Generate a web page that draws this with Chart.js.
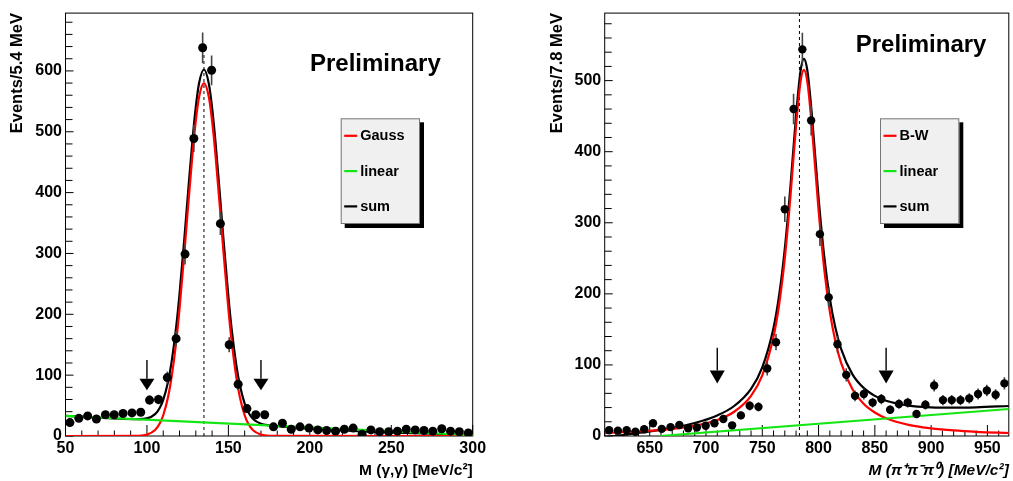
<!DOCTYPE html>
<html>
<head>
<meta charset="utf-8">
<script src="https://cdn.jsdelivr.net/npm/chart.js@4/dist/chart.umd.min.js"></script>
<style>
  body { margin: 0; background: #fff; }
  #wrap { display: flex; width: 1013px; height: 481px; }
  canvas { display: block; }
</style>
</head>
<body>
<div id="wrap">
  <canvas id="pi0" width="506" height="481"></canvas>
  <canvas id="omega" width="507" height="481"></canvas>
</div>
<script>
// ---- pi0 -> gamma gamma (left) ----
const pi0Mass = [52.7, 58.2, 63.6, 69.0, 74.5, 79.9, 85.3, 90.8, 96.2, 101.6, 107.1, 112.5, 117.9, 123.4, 128.8, 134.2,
  139.7, 145.1, 150.5, 156.0, 161.4, 166.8, 172.3, 177.7, 183.2, 188.6, 194.0, 199.5, 204.9, 210.3, 215.8, 221.2,
  226.6, 232.1, 237.5, 242.9, 248.4, 253.8, 259.2, 264.7, 270.1, 275.5, 281.0, 286.4, 291.8, 297.3];
const pi0Events = [22, 29, 33, 28, 35, 35, 37, 38, 39, 59, 60, 96, 160, 299, 489, 638,
  601, 349, 150, 85, 45, 35, 35, 15, 21, 11, 15, 13, 10, 9, 8, 11,
  13, 3, 10, 7, 7, 8, 11, 10, 9, 8, 12, 8, 7, 5];
const pi0FitX = [50, 95, 100, 105, 108, 110, 113, 115, 118, 120, 123, 125, 128, 130, 132, 135,
  138, 140, 142, 145, 147, 150, 152, 155, 157, 160, 162, 165, 170, 175, 300];
const pi0Gauss = [0, 0.4, 2.2, 9.8, 21.3, 34.1, 64.6, 94.5, 156, 209, 302, 368.5, 464.5, 518, 557, 580,
  557, 518, 464.5, 368.5, 302, 209, 156, 94.5, 64.6, 34.1, 21.3, 9.8, 2.2, 0.4, 0];
const pi0Sum = [33, 27.7, 28.9, 35.9, 47, 59.5, 89.7, 119.3, 180.4, 233.2, 325.8, 392, 487.7, 541, 579.7, 602.3,
  579, 539.7, 486, 389.5, 322.8, 229.4, 176, 114.3, 84.2, 53.2, 40.2, 28.3, 20.1, 17.7, 1.5];
const pi0LinearX = [50, 300];
const pi0Linear = [33, 1.5];
const pi0XTicks = [50, 100, 150, 200, 250, 300];
const pi0YTicks = [0, 100, 200, 300, 400, 500, 600];
const pi0Cuts = [100, 170];
const pi0Peak = 135;

// ---- omega -> pi+ pi- pi0 (right) ----
const omegaMass = [613.9, 621.7, 629.5, 637.3, 645.1, 652.9, 660.7, 668.5, 676.3, 684.1, 691.9, 699.7, 707.5, 715.4,
  723.2, 731.0, 738.8, 746.6, 754.4, 762.2, 770.0, 777.8, 785.6, 793.4, 801.2, 809.0, 816.8, 824.6, 832.4, 840.2,
  848.0, 855.8, 863.6, 871.4, 879.2, 887.0, 894.9, 902.7, 910.5, 918.3, 926.1, 933.9, 941.7, 949.5, 957.3, 965.1];
const omegaEvents = [8, 7.5, 8, 6, 9.5, 18, 10, 12.5, 15.5, 11, 12, 14.5, 18, 24,
  15, 29, 42.5, 41, 95, 132, 319, 460, 544, 444, 284, 195, 129, 86, 56.5, 59,
  47, 52, 37, 45, 47, 31, 44, 71, 50.5, 50.5, 50.5, 53, 59, 64, 58, 74];
const omegaFitX = [610, 630, 650, 670, 690, 710, 725, 740, 750, 760, 765, 770, 775, 780, 784, 787,
  790, 794, 800, 805, 810, 815, 820, 830, 840, 850, 860, 880, 900, 920, 940, 969];
const omegaBW = [4.4, 5.6, 7.4, 10, 14.5, 22.6, 34.1, 56.5, 85.4, 140, 185.4, 249.9, 336.8, 436.4, 498.5, 515,
  498.5, 436.4, 317.7, 235.2, 175, 132.7, 103, 66.1, 45.5, 33.1, 25, 15.7, 10.8, 7.8, 5.9, 4.2];
const omegaSum = [-1.6, 2.1, 6.3, 11.4, 18.3, 28.9, 42.2, 66.4, 96.6, 152.4, 198.4, 263.5, 351, 451.2, 513.8, 530.7,
  514.6, 453, 335, 253.1, 193.5, 151.8, 122.7, 87.1, 67.7, 56.5, 49.6, 42.8, 40.3, 39.8, 40.4, 42.2];
const omegaLinearX = [659, 969];
const omegaLinear = [0, 38];
const omegaXTicks = [650, 700, 750, 800, 850, 900, 950];
const omegaYTicks = [0, 100, 200, 300, 400, 500];
const omegaCuts = [710, 860];
const omegaPeak = 783;

const FONT = "'Liberation Sans', Arial, Helvetica, sans-serif";
const RED = '#ff0000', GREEN = '#14e614', BLACK = '#000000';

const pairs = (xs, ys) => xs.map((x, i) => ({ x, y: ys[i] }));

// ROOT-like decorations: frame, inner ticks, error bars, cut arrows, legend box, label
const rootStyle = {
  id: 'rootStyle',
  beforeDatasetsDraw(chart, args, o) {
    const { ctx, chartArea: a, scales: { x, y } } = chart;
    ctx.save();
    ctx.strokeStyle = '#000';
    ctx.lineWidth = 1;
    ctx.strokeRect(a.left, a.top, a.right - a.left, a.bottom - a.top);
    ctx.beginPath();
    for (let v = Math.ceil(x.min / o.xMinor) * o.xMinor; v <= x.max; v += o.xMinor) {
      const px = x.getPixelForValue(v);
      const len = v % o.xMajor === 0 ? 11 : 5.5;
      ctx.moveTo(px, a.bottom); ctx.lineTo(px, a.bottom - len);
    }
    for (let v = 0; v <= y.max; v += o.yMinor) {
      const py = y.getPixelForValue(v);
      const len = v % o.yMajor === 0 ? 8 : 7;
      ctx.moveTo(a.left, py); ctx.lineTo(a.left + len, py);
    }
    ctx.stroke();
    // dashed nominal mass line
    ctx.setLineDash([3, 3]);
    ctx.beginPath();
    const mx = x.getPixelForValue(o.markX);
    ctx.moveTo(mx, a.bottom);
    ctx.lineTo(mx, y.getPixelForValue(Math.min(o.markTop, y.max)));
    ctx.stroke();
    ctx.restore();
  },
  beforeDatasetDraw(chart, args) {
    if (args.index !== 0) return;
    const { ctx, scales: { x, y } } = chart;
    ctx.save();
    ctx.strokeStyle = '#444';
    ctx.lineWidth = 1.6;
    ctx.beginPath();
    chart.data.datasets[0].data.forEach(p => {
      const err = Math.sqrt(p.y);
      const px = x.getPixelForValue(p.x);
      ctx.moveTo(px, y.getPixelForValue(p.y - err));
      ctx.lineTo(px, y.getPixelForValue(p.y + err));
    });
    ctx.stroke();
    ctx.restore();
  },
  afterDraw(chart, args, o) {
    const { ctx, scales: { x, y } } = chart;
    ctx.save();
    // cut arrows
    o.cuts.forEach(c => {
      const px = x.getPixelForValue(c);
      ctx.strokeStyle = '#000';
      ctx.lineWidth = 1.4;
      ctx.beginPath();
      ctx.moveTo(px, y.getPixelForValue(o.arrowTop));
      ctx.lineTo(px, y.getPixelForValue(o.arrowBase));
      ctx.stroke();
      ctx.fillStyle = '#000';
      ctx.beginPath();
      ctx.moveTo(px - 7.5, y.getPixelForValue(o.arrowBase));
      ctx.lineTo(px + 7.5, y.getPixelForValue(o.arrowBase));
      ctx.lineTo(px, y.getPixelForValue(o.arrowTip));
      ctx.closePath();
      ctx.fill();
    });
    // legend box
    const L = o.legend;
    ctx.fillStyle = '#000';
    ctx.fillRect(L.x + 4, L.y + 4, L.w, L.h);
    ctx.fillStyle = '#f0f0f0';
    ctx.fillRect(L.x, L.y, L.w, L.h);
    ctx.strokeStyle = '#777';
    ctx.lineWidth = 1;
    ctx.strokeRect(L.x + 0.5, L.y + 0.5, L.w - 1, L.h - 1);
    ctx.font = 'bold 14.5px ' + FONT;
    ctx.textBaseline = 'middle';
    ctx.textAlign = 'left';
    L.items.forEach((di, i) => {
      const ds = chart.data.datasets[di];
      const ly = L.y + 17.5 + i * 35.3;
      ctx.strokeStyle = ds.borderColor;
      ctx.lineWidth = 2.2;
      ctx.beginPath();
      ctx.moveTo(L.x + 3.5, ly); ctx.lineTo(L.x + 16.5, ly);
      ctx.stroke();
      ctx.fillStyle = '#000';
      ctx.fillText(ds.label, L.x + 19.5, ly + 0.5);
    });
    // Preliminary
    ctx.font = 'bold 24px ' + FONT;
    ctx.textBaseline = 'alphabetic';
    ctx.fillText('Preliminary', o.prelim.x, o.prelim.y);
    ctx.restore();
  }
};

function massPlot(id, o) {
  const tickFont = { family: FONT, size: 16, weight: 'bold' };
  return new Chart(document.getElementById(id), {
    type: 'scatter',
    data: {
      datasets: [
        { label: 'data', data: pairs(o.x, o.y), pointRadius: o.dot, pointBackgroundColor: BLACK,
          pointBorderWidth: 0, order: 0 },
        { type: 'line', label: 'linear', data: pairs(o.linX, o.lin), borderColor: GREEN, borderWidth: 2.2,
          pointRadius: 0, order: 1 },
        { type: 'line', label: o.peakName, data: pairs(o.fitX, o.peak), borderColor: RED, borderWidth: 2.2,
          pointRadius: 0, cubicInterpolationMode: 'monotone', order: 2 },
        { type: 'line', label: 'sum', data: pairs(o.fitX, o.sum), borderColor: BLACK, borderWidth: 2.2,
          pointRadius: 0, cubicInterpolationMode: 'monotone', order: 3 }
      ]
    },
    options: {
      responsive: false,
      animation: false,
      devicePixelRatio: 1,
      layout: { padding: { top: 13, right: o.padRight, left: 0, bottom: 0 } },
      plugins: {
        legend: { display: false },
        tooltip: { enabled: false },
        rootStyle: o.deco
      },
      scales: {
        x: {
          type: 'linear', min: o.xMin, max: o.xMax,
          afterFit: s => { s.height = 45; },
          afterBuildTicks: s => { s.ticks = o.xTicks.map(v => ({ value: v })); },
          grid: { display: false, drawTicks: false },
          border: { display: false },
          ticks: { font: tickFont, color: '#000', padding: 3, autoSkip: false, maxRotation: 0 },
          title: { display: true, text: o.xTitle, align: 'end', color: '#000',
            font: { family: FONT, size: 15.5, weight: 'bold', style: o.xItalic ? 'italic' : 'normal' },
            padding: { top: 0, bottom: 1.2 } }
        },
        y: {
          type: 'linear', min: 0, max: o.yMax,
          afterFit: s => { s.width = o.yWidth; },
          afterBuildTicks: s => { s.ticks = o.yTicks.map(v => ({ value: v })); },
          grid: { display: false, drawTicks: false },
          border: { display: false },
          ticks: { font: tickFont, color: '#000', padding: 3.5, autoSkip: false },
          title: { display: true, text: o.yTitle, align: 'end', color: '#000',
            font: { family: FONT, size: 16.5, weight: 'bold' },
            padding: { top: o.yTitlePad, bottom: 0 } }
        }
      }
    },
    plugins: [rootStyle]
  });
}

massPlot('pi0', {
  x: pi0Mass, y: pi0Events, fitX: pi0FitX, peak: pi0Gauss, sum: pi0Sum,
  linX: pi0LinearX, lin: pi0Linear, peakName: 'Gauss', dot: 4.5,
  xMin: 50, xMax: 300, yMax: 695, xTicks: pi0XTicks, yTicks: pi0YTicks,
  xTitle: 'M (γ,γ) [MeV/c²]', xItalic: false, yTitle: 'Events/5.4 MeV',
  yWidth: 65.5, padRight: 33.3, yTitlePad: 7.9,
  deco: {
    xMinor: 10, xMajor: 50, yMinor: 20, yMajor: 100,
    markX: pi0Peak, markTop: 645, cuts: pi0Cuts, arrowTop: 125, arrowBase: 94, arrowTip: 75,
    legend: { x: 340.7, y: 118.3, w: 79.3, h: 105.7, items: [2, 1, 3] },
    prelim: { x: 310, y: 71 }
  }
});

massPlot('omega', {
  x: omegaMass, y: omegaEvents, fitX: omegaFitX, peak: omegaBW, sum: omegaSum,
  linX: omegaLinearX, lin: omegaLinear, peakName: 'B-W', dot: 4.2,
  xMin: 610, xMax: 969, yMax: 595, xTicks: omegaXTicks, yTicks: omegaYTicks,
  xTitle: 'M (π⁺π⁻π⁰) [MeV/c²]', xItalic: true, yTitle: 'Events/7.8 MeV',
  yWidth: 98.7, padRight: 1.3, yTitlePad: 41.2,
  deco: {
    xMinor: 10, xMajor: 50, yMinor: 20, yMajor: 100,
    markX: omegaPeak, markTop: 1000, cuts: omegaCuts, arrowTop: 124, arrowBase: 92, arrowTip: 74,
    legend: { x: 374, y: 118.3, w: 79.3, h: 105.7, items: [2, 1, 3] },
    prelim: { x: 349.7, y: 51.7 }
  }
});
</script>
</body>
</html>
